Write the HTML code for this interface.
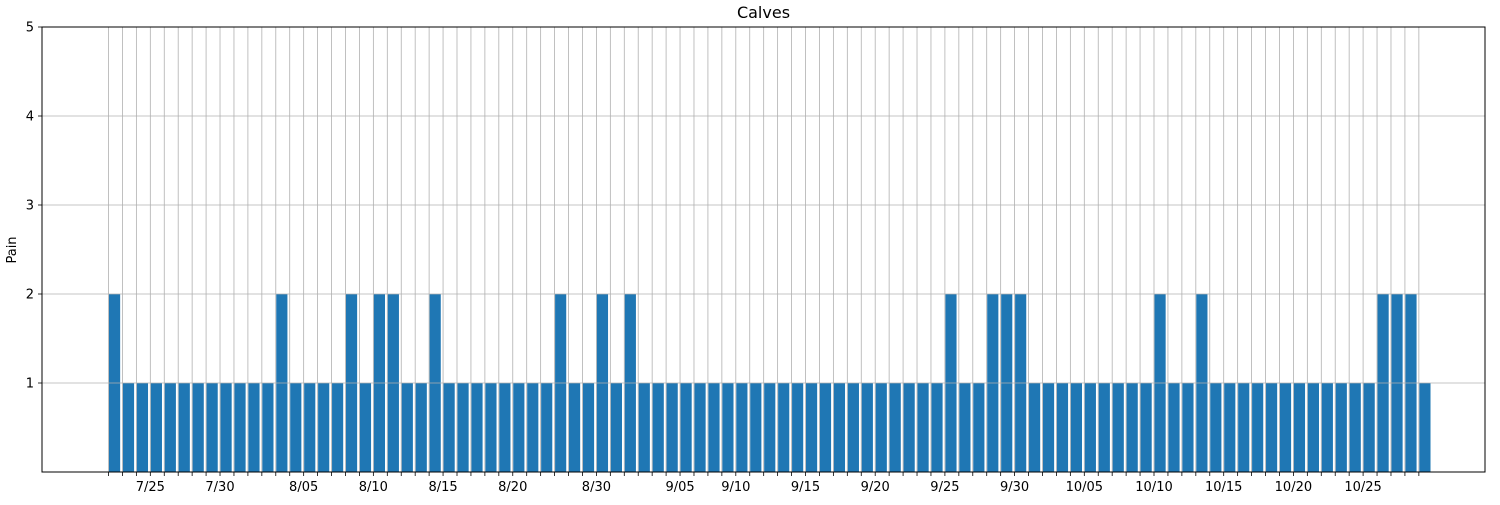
<!DOCTYPE html>
<html><head><meta charset="utf-8"><style>
body{margin:0;background:#fff}
text{font-family:"DejaVu Sans","Liberation Sans",sans-serif;fill:#000}
</style></head><body>
<svg id="chart" width="1500" height="500" xmlns="http://www.w3.org/2000/svg"></svg>
<script>
const values=[2,1,1,1,1,1,1,1,1,1,1,1,2,1,1,1,1,2,1,2,2,1,1,2,1,1,1,1,1,1,1,1,2,1,1,2,1,2,1,1,1,1,1,1,1,1,1,1,1,1,1,1,1,1,1,1,1,1,1,1,2,1,1,2,2,2,1,1,1,1,1,1,1,1,1,2,1,1,2,1,1,1,1,1,1,1,1,1,1,1,1,2,2,2,1];
const labelIdx=[3,8,14,19,24,29,35,41,45,50,55,60,65,70,75,80,85,90];
const labelText=["7/25","7/30","8/05","8/10","8/15","8/20","8/30","9/05","9/10","9/15","9/20","9/25","9/30","10/05","10/10","10/15","10/20","10/25"];
const yTicks=[1,2,3,4,5];
const svg=document.getElementById('chart');
const NS='http://www.w3.org/2000/svg';
const L=42,R=1485,T=27,B=472;
const x0=108.5,step=13.94;
const xs=i=>x0+i*step;
const ys=v=>B-(v/5)*(B-T);
function mk(tag,attrs,parent){const e=document.createElementNS(NS,tag);for(const k in attrs)e.setAttribute(k,attrs[k]);(parent||svg).appendChild(e);return e;}
const grid=mk('g',{});


values.forEach((v,i)=>{mk('line',{x1:xs(i),x2:xs(i),y1:T,y2:B,stroke:'#b0b0b0','stroke-width':0.8},grid);});
const bars=mk('g',{});


values.forEach((v,i)=>{
 const r=mk('rect',{x:xs(i)+0.5,y:ys(v),width:step*0.8,height:B-ys(v),fill:'#1f77b4'},bars);
 
 
});
const hgrid=mk('g',{});


yTicks.forEach(t=>{mk('line',{x1:L,x2:R,y1:ys(t),y2:ys(t),stroke:'#b0b0b0','stroke-width':0.8},hgrid);});
const ax=mk('rect',{x:L,y:T,width:R-L,height:B-T,fill:'none',stroke:'#000','stroke-width':1});


const xa=mk('g',{});


values.forEach((v,i)=>{mk('line',{x1:xs(i),x2:xs(i),y1:B,y2:B+4,stroke:'#000','stroke-width':0.8},xa);});
labelIdx.forEach((idx,k)=>{const t=mk('text',{x:xs(idx),y:B+19,'text-anchor':'middle','font-size':13},xa);t.textContent=labelText[k];
 
 });
const ya=mk('g',{});


yTicks.forEach(t=>{mk('line',{x1:L-4,x2:L,y1:ys(t),y2:ys(t),stroke:'#000','stroke-width':0.8},ya);
 const tx=mk('text',{x:L-8,y:ys(t)+4.5,'text-anchor':'end','font-size':13},ya);tx.textContent=t;
 
 });
const yl=mk('text',{x:0,y:0,'text-anchor':'middle','font-size':13,transform:'translate(16,250) rotate(-90)'});
yl.textContent='Pain';


const ti=mk('text',{x:(L+R)/2,y:18,'text-anchor':'middle','font-size':16});
ti.textContent='Calves';


</script>
</body></html>
